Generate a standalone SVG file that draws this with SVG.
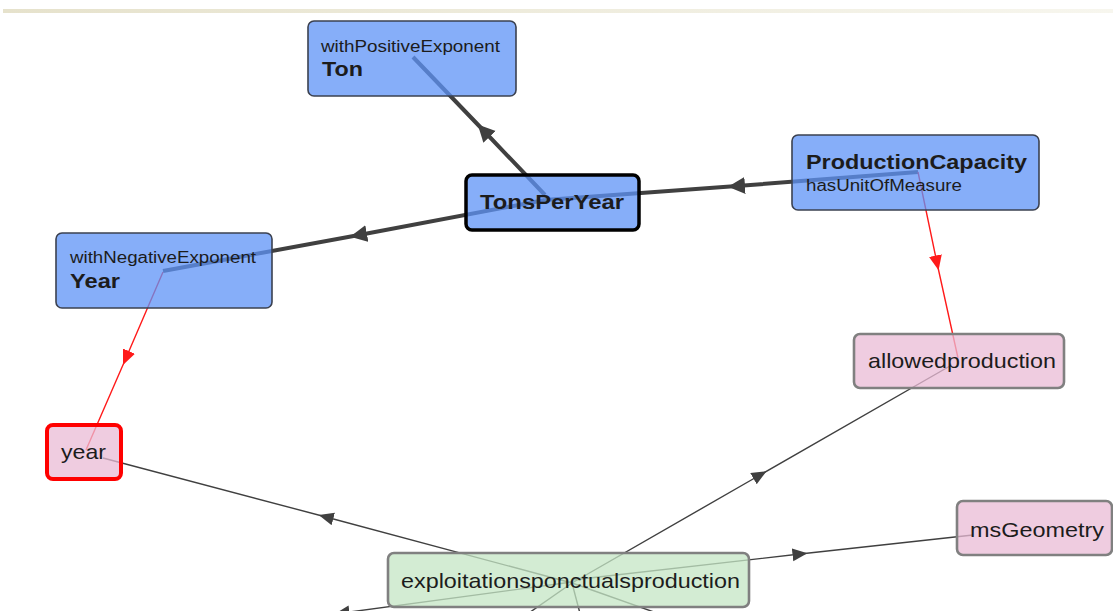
<svg xmlns="http://www.w3.org/2000/svg" width="1113" height="611" viewBox="0 0 1113 611">
<defs>
<style>
.edge-thick{fill:none;stroke:#404040;stroke-width:4;marker-mid:url(#arrThick)}
.edge-thin{fill:none;stroke:#404040;stroke-width:1.4;marker-mid:url(#arrThin)}
.edge-plain{fill:none;stroke:#404040;stroke-width:1.4}
.edge-red{fill:none;stroke:#ff1a1a;stroke-width:1.4;marker-mid:url(#arrRed)}
.blue{fill:#5d93f7;fill-opacity:0.75;stroke:#3b4150;stroke-width:1.6}
.pink{fill:#eabbd6;fill-opacity:0.75;stroke:#808080;stroke-width:2.6}
.green{fill:#c4e6c4;fill-opacity:0.75;stroke:#808080;stroke-width:2.6}
text{font-family:"Liberation Sans",Arial,sans-serif;fill:#1c1c1c}
.small{font-size:16px}
.bold{font-size:21px;font-weight:bold}
.reg{font-size:21px}
</style>
<linearGradient id="band" x1="0" y1="0" x2="1" y2="0">
<stop offset="0" stop-color="#e6e2cc"/>
<stop offset="1" stop-color="#f7f6ee"/>
</linearGradient>
<marker id="arrThick" markerUnits="userSpaceOnUse" markerWidth="18" markerHeight="18" refX="8" refY="8.5" orient="auto" viewBox="0 0 18 18">
<path d="M0,0 L17,8.5 L0,17 z" fill="#404040"/>
</marker>
<marker id="arrThin" markerUnits="userSpaceOnUse" markerWidth="16" markerHeight="14" refX="7.5" refY="6.5" orient="auto" viewBox="0 0 16 14">
<path d="M0,0 L15,6.5 L0,13 z" fill="#404040"/>
</marker>
<marker id="arrRed" markerUnits="userSpaceOnUse" markerWidth="16" markerHeight="14" refX="7.5" refY="6.5" orient="auto" viewBox="0 0 16 14">
<path d="M0,0 L15,6.5 L0,13 z" fill="#ff1a1a"/>
</marker>
</defs>
<rect x="0" y="0" width="1113" height="611" fill="#ffffff"/>
<rect x="3" y="9" width="1110" height="4" fill="url(#band)"/>
<g id="connectors">
<path class="edge-thick" d="M545,195 L484,131 L413,57"/>
<path class="edge-thick" d="M918,172 L737,186 L545,200"/>
<path class="edge-thick" d="M545,200 L359,235 L163,271"/>
<path class="edge-red" d="M918,172 L937,263 L958,358"/>
<path class="edge-red" d="M163,272 L126,358 L86,450"/>
<path class="edge-thin" d="M572,583 L326,517 L103,458"/>
<path class="edge-thin" d="M572,583 L760,475 L950,366"/>
<path class="edge-thin" d="M572,580 L800,554 L973,535"/>
<path class="edge-thin" d="M572,582 L342,613 L300,619"/>
<path class="edge-plain" d="M572,583 L490,640"/>
<path class="edge-plain" d="M572,583 L587,640"/>
<path class="edge-plain" d="M572,583 L733,640"/>
</g>
<g id="node-ton">
<rect class="blue" x="308" y="21" width="208" height="75" rx="6"/>
<text class="small" x="321" y="52" textLength="179" lengthAdjust="spacingAndGlyphs">withPositiveExponent</text>
<text class="bold" x="322" y="76" textLength="41" lengthAdjust="spacingAndGlyphs">Ton</text>
</g>
<g id="node-tonsperyear">
<rect x="466" y="175" width="173" height="55" rx="6" fill="#5d93f7" fill-opacity="0.75" stroke="#000000" stroke-width="3.5"/>
<text class="bold" x="480" y="209" textLength="144" lengthAdjust="spacingAndGlyphs">TonsPerYear</text>
</g>
<g id="node-productioncapacity">
<rect class="blue" x="792" y="135" width="247" height="75" rx="6"/>
<text class="bold" x="806" y="169" textLength="221" lengthAdjust="spacingAndGlyphs">ProductionCapacity</text>
<text class="small" x="806" y="191" textLength="156" lengthAdjust="spacingAndGlyphs">hasUnitOfMeasure</text>
</g>
<g id="node-year-unit">
<rect class="blue" x="56" y="233" width="216" height="75" rx="6"/>
<text class="small" x="70" y="263" textLength="186" lengthAdjust="spacingAndGlyphs">withNegativeExponent</text>
<text class="bold" x="70" y="288" textLength="50" lengthAdjust="spacingAndGlyphs">Year</text>
</g>
<g id="node-year">
<rect x="47" y="425" width="74" height="54" rx="6" fill="#eabbd6" fill-opacity="0.75" stroke="#ff0000" stroke-width="4"/>
<text class="reg" x="61" y="459" textLength="45" lengthAdjust="spacingAndGlyphs">year</text>
</g>
<g id="node-allowedproduction">
<rect class="pink" x="854" y="334" width="210" height="54" rx="6"/>
<text class="reg" x="868" y="368" textLength="188" lengthAdjust="spacingAndGlyphs">allowedproduction</text>
</g>
<g id="node-msgeometry">
<rect class="pink" x="957" y="501" width="155" height="54" rx="6"/>
<text class="reg" x="970" y="537" textLength="134" lengthAdjust="spacingAndGlyphs">msGeometry</text>
</g>
<g id="node-exploitation">
<rect class="green" x="388" y="553" width="361" height="54" rx="6"/>
<text class="reg" x="401" y="588" textLength="339" lengthAdjust="spacingAndGlyphs">exploitationsponctualsproduction</text>
</g>
</svg>
